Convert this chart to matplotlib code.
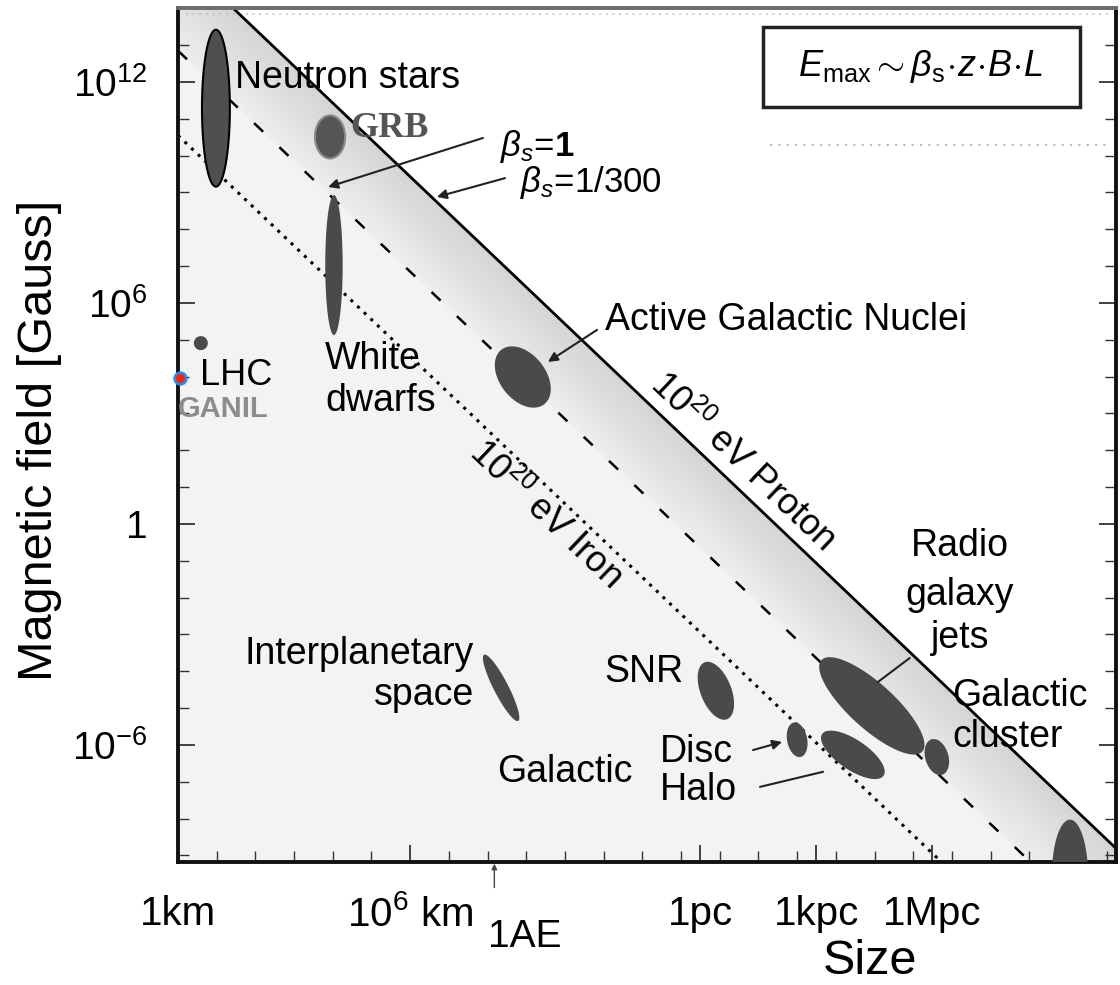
import numpy as np
import matplotlib
matplotlib.use("Agg")
import matplotlib.pyplot as plt
from matplotlib.ticker import FixedLocator, LogLocator, NullFormatter, FixedFormatter
from matplotlib.patches import Rectangle
import matplotlib.transforms as mtransforms

plt.rcParams['font.family'] = ['Liberation Sans', 'DejaVu Sans']
plt.rcParams['mathtext.fontset'] = 'custom'
plt.rcParams['mathtext.rm'] = 'Liberation Sans'
plt.rcParams['mathtext.it'] = 'Liberation Sans:italic'
plt.rcParams['mathtext.bf'] = 'Liberation Sans:bold'

# ---------------- data (log10 units: size in km, field in Gauss) ----------------
source_names = ['Neutron stars', 'GRB', 'White dwarfs', 'LHC', 'Active Galactic Nuclei',
                'Interplanetary space', 'SNR', 'Galactic Disc', 'Galactic Halo',
                'Radio galaxy jets', 'Galactic cluster', 'Off-scale object']
log_size_km = [0.98, 3.93, 4.03, 0.59, 8.91, 8.35, 13.90, 16.00, 17.44, 17.93, 19.61, 23.05]
log_field_G = [11.29, 10.51, 7.03, 4.91, 3.99, -4.45, -4.53, -5.86, -6.27, -4.94, -6.33, -9.53]
major_dec = [4.26, 1.17, 3.80, 0.38, 1.85, 2.00, 1.65, 0.95, 1.95, 3.60, 1.00, 3.00]
minor_dec = [0.72, 0.78, 0.45, 0.36, 1.20, 0.38, 0.80, 0.52, 0.80, 1.20, 0.60, 0.93]
tilt_deg = [90, 90, 90, 90, -55, -64, -70, -80, -36, -44, -75, 90]

ganil_log_size_km = 0.05
ganil_log_field_G = 3.96

# Hillas lines: log10(B) + log10(L) = const
line_names = ['1e20 eV proton, beta=1/300', '1e20 eV proton, beta=1', '1e20 eV iron']
line_const = [15.43, 12.85, 10.55]

x_tick_values = [1.0, 1.0e6, 3.086e13, 3.086e16, 3.086e19]
x_tick_labels = ['1km', r'$10^6$ km', '1pc', '1kpc', '1Mpc']
y_tick_values = [1e12, 1e6, 1.0, 1e-6]
y_tick_labels = [r'$10^{12}$', r'$10^{6}$', '1', r'$10^{-6}$']

XMIN, XMAX = 0.0, 24.24
YMIN, YMAX = -9.18, 14.01

# ---------------- figure ----------------
fig = plt.figure(figsize=(11.2, 9.85), dpi=100)
ax = fig.add_axes([178/1120, (985-862)/985, 938/1120, 854/985])
ax.set_xscale('log')
ax.set_yscale('log')
ax.set_xlim(10**XMIN, 10**XMAX)
ax.set_ylim(10**YMIN, 10**YMAX)

lx = np.linspace(XMIN, XMAX, 400)
X = 10**lx

# background below the proton line
ax.fill_between(X, 10**YMIN, 10**(line_const[0]-lx), color='#f3f3f3', lw=0, zorder=0)
# gradient band between beta=1 and beta=1/300 lines
nb = 14
c_lo, c_hi = line_const[1], line_const[0]
for k in range(nb):
    a = c_lo + (c_hi-c_lo)*k/nb
    b = c_lo + (c_hi-c_lo)*(k+1)/nb
    g = 0.93 - 0.10*(k/(nb-1))
    ax.fill_between(X, 10**(a-lx), 10**(b-lx), color=(g, g, g), lw=0, zorder=0.5)

ax.plot(X, 10**(line_const[0]-lx), color='black', lw=2.0, zorder=2)
ax.plot(X, 10**(line_const[1]-lx), color='black', lw=1.8, dashes=(5, 9), zorder=2)
ax.plot(X, 10**(line_const[2]-lx), color='black', lw=2.2, dashes=(1, 2), zorder=2)

# faint dotted artefact lines
ax.plot([10**0.2, 10**24.1], [10**13.85]*2, color='#bbbbbb', lw=1.2, dashes=(1, 3), zorder=1)
ax.plot([10**15.3, 10**24.0], [10**10.29]*2, color='#bbbbbb', lw=1.5, dashes=(1, 3), zorder=1)

# ellipses
t = np.linspace(0, 2*np.pi, 200)
for i in range(len(source_names)):
    th = np.deg2rad(tilt_deg[i])
    a = major_dec[i]/2
    b = minor_dec[i]/2
    ex = log_size_km[i] + a*np.cos(t)*np.cos(th) - b*np.sin(t)*np.sin(th)
    ey = log_field_G[i] + a*np.cos(t)*np.sin(th) + b*np.sin(t)*np.cos(th)
    if i == 0:
        ax.fill(10**ex, 10**ey, facecolor='#4f4f4f', edgecolor='black', lw=1.5, zorder=3)
    elif i == 1:
        ax.fill(10**ex, 10**ey, facecolor='#555555', edgecolor='#8a8a8a', lw=1.5, zorder=3)
    else:
        ax.fill(10**ex, 10**ey, facecolor='#4a4a4a', edgecolor='none', zorder=3)

ax.plot([10**ganil_log_size_km], [10**ganil_log_field_G], 'o', ms=8.5,
        mfc='#ff2200', mec='#1e90ff', mew=1.8, zorder=5, clip_on=False)

# ---------------- text labels ----------------
fs = 27
def T(lxv, lyv, s, **kw):
    kw.setdefault('fontsize', fs)
    kw.setdefault('va', 'center')
    kw.setdefault('ha', 'left')
    ax.text(10**lxv, 10**lyv, s, zorder=6, **kw)

T(1.47, 12.11, 'Neutron stars')
T(4.44, 10.75, 'GRB', fontsize=26, fontweight='bold', color='#555555',
  family=['Liberation Serif', 'DejaVu Serif'])
T(8.32, 10.24, r'$\beta_s$=$\mathbf{1}$', fontsize=25)
T(8.84, 9.26, r'$\beta_s$=1/300', fontsize=25)
T(3.80, 3.91, 'White\ndwarfs', linespacing=1.2)
T(0.57, 4.02, 'LHC', fontsize=26)
T(0.0, 3.12, 'GANIL', fontsize=21, fontweight='bold', color='#8c8c8c')
T(11.03, 5.54, 'Active Galactic Nuclei')
T(20.21, -0.60, 'Radio', ha='center')
T(20.21, -1.93, 'galaxy', ha='center')
T(20.21, -3.10, 'jets', ha='center')
T(20.0, -5.23, 'Galactic\ncluster', linespacing=1.2)
T(7.65, -4.09, 'Interplanetary\nspace', ha='right', multialignment='right', linespacing=1.15)
T(11.03, -4.02, 'SNR')
T(8.24, -6.73, 'Galactic')
T(12.45, -6.71, 'Disc\nHalo', linespacing=1.1)

ax.text(10**14.57, 10**1.68, r'10$^{20}$ eV Proton', fontsize=26, rotation=-43.6,
        rotation_mode='anchor', ha='center', va='center', zorder=6)
ax.text(10**9.48, 10**0.24, r'10$^{20}$ eV Iron', fontsize=26, rotation=-43.6,
        rotation_mode='anchor', ha='center', va='center', zorder=6)

# arrows / pointer lines
def arrow(x0, y0, x1, y1, head=True):
    ax.annotate('', xy=(10**x1, 10**y1), xytext=(10**x0, 10**y0),
                arrowprops=dict(arrowstyle='-|>' if head else '-', color='#222222', lw=1.5,
                                mutation_scale=14, shrinkA=0, shrinkB=0), zorder=6)

arrow(7.88, 10.48, 3.88, 9.15)
arrow(8.45, 9.39, 6.69, 8.88)
arrow(10.83, 5.27, 9.56, 4.40)
arrow(18.91, -3.64, 18.09, -4.29, head=False)
arrow(14.86, -6.14, 15.61, -5.92)
arrow(15.04, -7.14, 16.67, -6.73, head=False)

# formula box
ax.add_patch(Rectangle((0.6237, 0.8841), 0.338, 0.0937, transform=ax.transAxes,
                       facecolor='white', edgecolor='#222222', lw=2.5, zorder=7))
ax.text(0.792, 0.931, r'$E_{\rm max}\sim\beta_{\rm s}\!\cdot\! z\!\cdot\! B\!\cdot\! L$',
        transform=ax.transAxes, fontsize=26, ha='center', va='center', zorder=8)

# 1AE marker below axis
trans = mtransforms.blended_transform_factory(ax.transData, ax.transAxes)
ax.annotate('', xy=(1.496e8, -0.002), xytext=(1.496e8, -0.03), xycoords=trans,
            textcoords=trans, arrowprops=dict(arrowstyle='-|>', color='#444444', lw=1.0,
                                              mutation_scale=8, shrinkA=0, shrinkB=0),
            annotation_clip=False)
ax.text(10**8.97, -0.088, '1AE', transform=trans, fontsize=28, ha='center', va='center')

# ---------------- axes styling ----------------
ax.xaxis.set_major_locator(FixedLocator(x_tick_values))
ax.xaxis.set_major_formatter(FixedFormatter(x_tick_labels))
ax.xaxis.set_minor_locator(LogLocator(base=10, subs=(1.0,), numticks=60))
ax.xaxis.set_minor_formatter(NullFormatter())
ax.yaxis.set_major_locator(FixedLocator(y_tick_values))
ax.yaxis.set_major_formatter(FixedFormatter(y_tick_labels))
ax.yaxis.set_minor_locator(LogLocator(base=10, subs=(1.0,), numticks=60))
ax.yaxis.set_minor_formatter(NullFormatter())

ax.tick_params(which='both', direction='in', right=True, top=False, color='#333333')
ax.tick_params(which='major', length=12, width=1.3)
ax.tick_params(which='minor', length=8, width=1.0)
ax.tick_params(axis='x', which='major', labelsize=29, pad=24)
ax.tick_params(axis='y', which='major', labelsize=28, pad=22)

for s in ['left', 'bottom', 'right']:
    ax.spines[s].set_linewidth(2.8)
    ax.spines[s].set_color('#111111')
ax.spines['top'].set_linewidth(2.8)
ax.spines['top'].set_color('#6e6e6e')
ax.set_facecolor('white')

fig.text(870/1120, 1-962/985, 'Size', fontsize=35, ha='center', va='center')
fig.text(40/1120, 1-440/985, 'Magnetic field [Gauss]', fontsize=35, rotation=90,
         ha='center', va='center')

fig.savefig('out.png', dpi=100, facecolor='white')
